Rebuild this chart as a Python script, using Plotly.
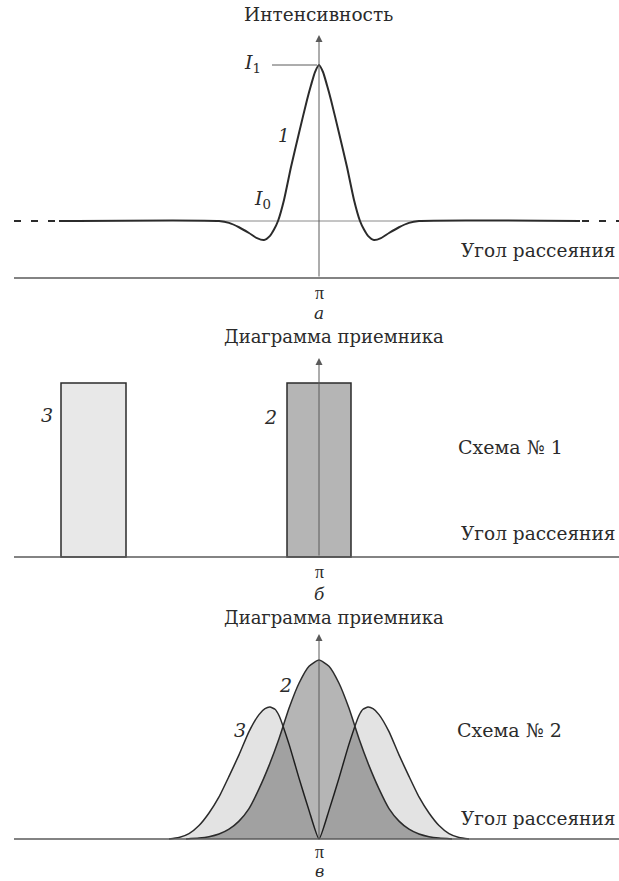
import plotly.graph_objects as go

# ---- data (angle offset from pi in arbitrary units, intensity normalised) ----
curve1_x = [-260, -100, -90, -80, -70, -62, -55, -49, -45, -41, -35, -28, -20, -12, -8, -4, 0,
            4, 8, 12, 20, 28, 35, 41, 45, 49, 55, 62, 70, 80, 90, 100, 261]
curve1_y = [0, 0, -0.012, -0.04, -0.077, -0.11, -0.122, -0.095, -0.055, 0, 0.135, 0.346, 0.564,
            0.776, 0.87, 0.955, 1, 0.955, 0.87, 0.776, 0.564, 0.346, 0.135, 0, -0.055, -0.095,
            -0.122, -0.11, -0.077, -0.04, -0.012, 0, 0]

rect_centers = [-225.5, 0]
rect_widths = [65, 64]
rect_heights = [1, 1]
rect_labels = ["3", "2"]

gauss2_x = [-133, -120, -110, -100, -90, -80, -70, -60, -50, -40, -30, -20, -10, 0,
            10, 20, 30, 40, 50, 60, 70, 80, 90, 100, 110, 120, 133]
gauss2_y = [0, 0.005, 0.013, 0.028, 0.055, 0.1, 0.17, 0.28, 0.41, 0.56, 0.73, 0.87, 0.965, 1,
            0.965, 0.87, 0.73, 0.56, 0.41, 0.28, 0.17, 0.1, 0.055, 0.028, 0.013, 0.005, 0]

gauss3_x = [-150, -140, -130, -120, -110, -100, -90, -80, -70, -60, -54, -49, -44, -40, -30, -20,
            -10, 0, 10, 20, 30, 40, 44, 49, 54, 60, 70, 80, 90, 100, 110, 120, 130, 140, 150]
gauss3_y = [0, 0.008, 0.03, 0.075, 0.145, 0.235, 0.35, 0.47, 0.6, 0.695, 0.728, 0.737, 0.725,
            0.69, 0.53, 0.34, 0.16, 0, 0.16, 0.34, 0.53, 0.69, 0.725, 0.737, 0.728, 0.695, 0.6,
            0.47, 0.35, 0.235, 0.145, 0.075, 0.03, 0.008, 0]

# ---- page geometry (pixels) ----
W, H = 619, 881
X_RANGE = [-319, 300]
# (top px, bottom px, baseline px, px per unit)
panels = [(0, 326, 221, 156), (326, 604, 557, 174), (604, 881, 839, 179)]

INK = "#2b2b2b"
AXIS = "#5a5a5a"
SERIF = "DejaVu Serif"
PI_FONT = "Liberation Serif"


def v(panel, py):
    top, bottom, base, unit = panels[panel]
    return (base - py) / unit


def dx(px):
    return px - 319


fig = go.Figure()

# panel a: scattering indicatrix
fig.add_trace(go.Scatter(x=[-100, 100], y=[0, 0], mode="lines",
                         line=dict(color="#8a8a8a", width=1), xaxis="x", yaxis="y"))
fig.add_trace(go.Scatter(x=curve1_x, y=curve1_y, mode="lines",
                         line=dict(color=INK, width=2, shape="spline", smoothing=0.6),
                         xaxis="x", yaxis="y"))
for xs in ([-305, -262], [263, 300]):
    fig.add_trace(go.Scatter(x=xs, y=[0, 0], mode="lines",
                             line=dict(color=INK, width=2, dash="7px,10px"),
                             xaxis="x", yaxis="y"))
fig.add_trace(go.Scatter(x=[-47, -2], y=[1, 1], mode="lines",
                         line=dict(color=AXIS, width=1), xaxis="x", yaxis="y"))

# panel b: rectangular receiver patterns
fig.add_trace(go.Bar(x=rect_centers, y=rect_heights, width=rect_widths, base=0,
                     marker=dict(color=["#e8e8e8", "#b5b5b5"],
                                 line=dict(color=INK, width=1.5)),
                     xaxis="x2", yaxis="y2"))

# panel c: bell-shaped receiver patterns
fig.add_trace(go.Scatter(x=gauss3_x, y=gauss3_y, mode="lines", fill="toself",
                         fillcolor="rgba(0,0,0,0.11)",
                         line=dict(color=INK, width=1.5, shape="spline", smoothing=0.5),
                         xaxis="x3", yaxis="y3"))
fig.add_trace(go.Scatter(x=gauss2_x, y=gauss2_y, mode="lines", fill="toself",
                         fillcolor="rgba(0,0,0,0.29)",
                         line=dict(color=INK, width=1.5, shape="spline", smoothing=0.5),
                         xaxis="x3", yaxis="y3"))

layout = dict(width=W, height=H, margin=dict(l=0, r=0, t=0, b=0),
              plot_bgcolor="white", paper_bgcolor="white", showlegend=False,
              barmode="overlay")
shapes = []
annotations = []
for i, (top, bottom, base, unit) in enumerate(panels):
    sfx = "" if i == 0 else str(i + 1)
    layout["xaxis" + sfx] = dict(range=X_RANGE, domain=[0, 1], visible=False,
                                 anchor="y" + sfx, fixedrange=True)
    layout["yaxis" + sfx] = dict(range=[v(i, bottom), v(i, top)],
                                 domain=[1 - bottom / H, 1 - top / H], visible=False,
                                 anchor="x" + sfx, fixedrange=True)

# horizontal axis lines
for i, py in ((0, 278), (1, 557), (2, 839)):
    sfx = "" if i == 0 else str(i + 1)
    shapes.append(dict(type="line", xref="x" + sfx, yref="y" + sfx, x0=dx(14), x1=dx(619),
                       y0=v(i, py), y1=v(i, py), line=dict(color=AXIS, width=1.3),
                       layer="above"))

# vertical axes with arrows
for i, (py0, py1) in enumerate(((278, 35), (557, 358), (839, 634))):
    sfx = "" if i == 0 else str(i + 1)
    annotations.append(dict(xref="x" + sfx, yref="y" + sfx, axref="x" + sfx, ayref="y" + sfx,
                            x=0, y=v(i, py1), ax=0, ay=v(i, py0), text="", showarrow=True,
                            arrowhead=2, arrowsize=1.4, arrowwidth=1, arrowcolor=AXIS))


def label(i, px, py, text, size=19, italic=False, xanchor="center", family=SERIF):
    sfx = "" if i == 0 else str(i + 1)
    annotations.append(dict(xref="x" + sfx, yref="y" + sfx, x=dx(px), y=v(i, py), text=text,
                            showarrow=False, xanchor=xanchor, yanchor="middle",
                            font=dict(family=family, size=size, color=INK,
                                      style="italic" if italic else "normal")))


# panel a texts
label(0, 318, 14, "Интенсивность", 18.5)
label(0, 252, 63, "<i>I</i><sub>1</sub>", 19)
label(0, 262, 199, "<i>I</i><sub>0</sub>", 19)
label(0, 283, 135, "1", 18, italic=True)
label(0, 617, 250, "Угол рассеяния", 18.5, xanchor="right")
label(0, 319, 293, "π", 18, family=PI_FONT)
label(0, 319, 313, "а", 17, italic=True)

# panel b texts
label(1, 334, 337, "Диаграмма приемника", 18)
label(1, 47, 415, rect_labels[0], 19, italic=True)
label(1, 270, 417, rect_labels[1], 19, italic=True)
label(1, 456, 447, "Схема № 1", 19, xanchor="left")
label(1, 617, 533, "Угол рассеяния", 18.5, xanchor="right")
label(1, 319, 572, "π", 18, family=PI_FONT)
label(1, 319, 594, "б", 17, italic=True)

# panel c texts
label(2, 334, 617, "Диаграмма приемника", 18)
label(2, 285, 685, "2", 19, italic=True)
label(2, 240, 730, "3", 19, italic=True)
label(2, 455, 730, "Схема № 2", 19, xanchor="left")
label(2, 617, 818, "Угол рассеяния", 18.5, xanchor="right")
label(2, 319, 852, "π", 18, family=PI_FONT)
label(2, 319, 871, "в", 16, italic=True)

layout["shapes"] = shapes
layout["annotations"] = annotations
fig.update_layout(**layout)

fig.write_html("out.html", config={"displayModeBar": False},
               post_script="document.body.style.margin='0';")
